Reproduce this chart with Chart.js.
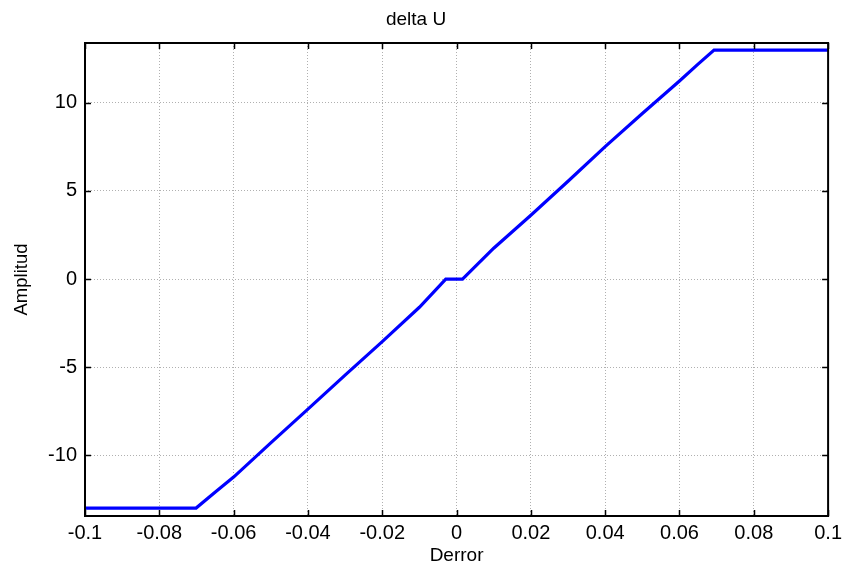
<!DOCTYPE html>
<html>
<head>
<meta charset="utf-8">
<title>delta U</title>
<script src="https://cdn.jsdelivr.net/npm/chart.js@4.4.1/dist/chart.umd.min.js"></script>
<style>
  html, body { margin: 0; padding: 0; background: #ffffff; }
  #wrap { width: 847px; height: 565px; }
</style>
</head>
<body>
<div id="wrap"><canvas id="c" width="847" height="565"></canvas></div>
<script>
// Controller output (delta U) against error (Derror)
const errorValues = [-0.1, -0.0701, -0.065, -0.06, -0.05, -0.04, -0.03, -0.02, -0.01, -0.0029,
                     0.0016, 0.01, 0.02, 0.03, 0.04, 0.05, 0.06, 0.065, 0.0693, 0.1];
const deltaU      = [-13, -13, -12.1, -11.24, -9.3, -7.38, -5.45, -3.55, -1.6, 0,
                     0, 1.75, 3.62, 5.55, 7.52, 9.4, 11.24, 12.2, 13, 13];

const xTicks = [-0.1, -0.08, -0.06, -0.04, -0.02, 0, 0.02, 0.04, 0.06, 0.08, 0.1];
const xTickLabels = ['-0.1', '-0.08', '-0.06', '-0.04', '-0.02', '0', '0.02', '0.04', '0.06', '0.08', '0.1'];
const yTicks = [-10, -5, 0, 5, 10];
const yTickLabels = ['-10', '-5', '0', '5', '10'];

const points = errorValues.map((x, i) => ({ x: x, y: deltaU[i] }));

const FONT = "'Liberation Sans', Arial, Helvetica, sans-serif";

// Frame around the plot area with short inward tick marks on all four sides
const framePlugin = {
  id: 'frame',
  afterDatasetsDraw(chart) {
    const { ctx, chartArea: a, scales } = chart;
    const len = 6;
    ctx.save();
    ctx.strokeStyle = '#000000';
    ctx.lineWidth = 1.5;
    ctx.beginPath();
    xTicks.forEach(v => {
      const px = Math.round(scales.x.getPixelForValue(v)) + 0.5;
      ctx.moveTo(px, a.bottom); ctx.lineTo(px, a.bottom - len);
      ctx.moveTo(px, a.top); ctx.lineTo(px, a.top + len);
    });
    yTicks.forEach(v => {
      const py = Math.round(scales.y.getPixelForValue(v)) + 0.5;
      ctx.moveTo(a.left, py); ctx.lineTo(a.left + len, py);
      ctx.moveTo(a.right, py); ctx.lineTo(a.right - len, py);
    });
    ctx.stroke();
    ctx.lineWidth = 2;
    ctx.strokeRect(a.left, a.top, a.right - a.left, a.bottom - a.top);
    ctx.restore();
  }
};

new Chart(document.getElementById('c'), {
  type: 'scatter',
  data: {
    datasets: [{
      data: points,
      showLine: true,
      borderColor: '#0000ff',
      backgroundColor: '#0000ff',
      borderWidth: 3.2,
      pointRadius: 0,
      tension: 0
    }]
  },
  options: {
    responsive: false,
    animation: false,
    layout: { padding: { left: 0, right: 15, top: 0, bottom: 0 } },
    plugins: {
      legend: { display: false },
      tooltip: { enabled: false },
      title: {
        display: true,
        text: 'delta U',
        color: '#000000',
        font: { family: FONT, size: 19, weight: 'normal', lineHeight: 1.2 },
        padding: { top: 8, bottom: 12.2 }
      }
    },
    scales: {
      x: {
        type: 'linear',
        min: -0.1,
        max: 0.1,
        afterBuildTicks: s => { s.ticks = xTicks.map(v => ({ value: v })); },
        afterFit: s => { s.height = 49; },
        ticks: {
          autoSkip: false,
          maxRotation: 0,
          padding: 5,
          color: '#000000',
          font: { family: FONT, size: 20 },
          callback: (v, i) => xTickLabels[i]
        },
        grid: { color: '#b0b0b0', lineWidth: 1, drawTicks: false },
        border: { display: false, dash: [1, 2] },
        title: {
          display: true,
          text: 'Derror',
          color: '#000000',
          font: { family: FONT, size: 19, lineHeight: 1 },
          padding: { top: 0, bottom: 0 }
        }
      },
      y: {
        type: 'linear',
        min: -13.45,
        max: 13.4,
        afterBuildTicks: s => { s.ticks = yTicks.map(v => ({ value: v })); },
        afterFit: s => { s.width = 85; },
        ticks: {
          padding: 8,
          color: '#000000',
          font: { family: FONT, size: 20 },
          callback: (v, i) => yTickLabels[i]
        },
        grid: { color: '#b0b0b0', lineWidth: 1, drawTicks: false },
        border: { display: false, dash: [1, 2] },
        title: {
          display: true,
          text: 'Amplitud',
          color: '#000000',
          font: { family: FONT, size: 18.5, lineHeight: 1.2 },
          padding: { top: 11, bottom: 0 }
        }
      }
    }
  },
  plugins: [framePlugin]
});
</script>
</body>
</html>
